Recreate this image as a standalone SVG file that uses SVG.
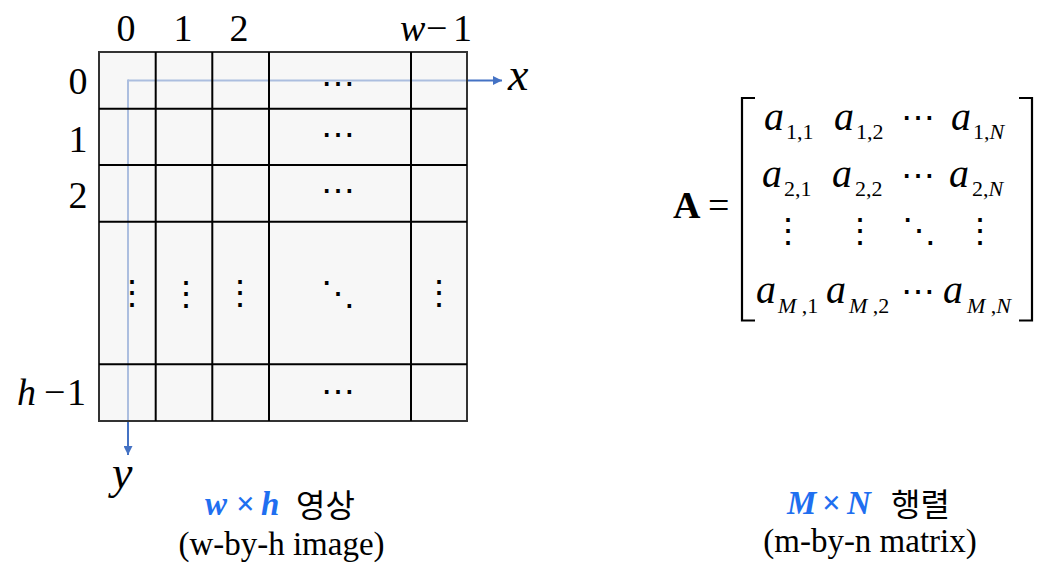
<svg xmlns="http://www.w3.org/2000/svg" width="1056" height="576" viewBox="0 0 1056 576">
<defs>
<marker id="ah" viewBox="0 0 10 10" refX="10" refY="5" markerWidth="10" markerHeight="9" markerUnits="userSpaceOnUse" orient="auto">
<path d="M0,0 L10,5 L0,10 z" fill="#4472C4"/>
</marker>
<style>
.n{font-size:38px}
.i{font-style:italic}
.m{font-size:40px;font-style:italic}
.xy{font-size:46px;font-style:italic}
.s{font-size:22px}
.si{font-size:22px;font-style:italic}
.d{font-size:34px;text-anchor:middle}
.cell{fill:#f2f2f2;fill-opacity:0.6}
.gl{stroke:#000;stroke-width:2;fill:none}
.ax{stroke:#4472C4;stroke-width:2;fill:none}
.br{stroke:#000;stroke-width:2.2;fill:none}
.cap{font-size:33px}
.blue{fill:#1f6ff0;font-weight:bold;font-style:italic}
.kr{font-size:32px}
</style>
</defs>
<rect width="1056" height="576" fill="#fff"/>

<g id="connectors">
<path class="ax" d="M128,80.5 L502,80.5" marker-end="url(#ah)"/>
<path class="ax" d="M128,79.5 L128,455" marker-end="url(#ah)"/>
</g>

<g id="image-grid" font-family="DejaVu Serif, serif" fill="#000">
<rect class="cell" x="99" y="52" width="368" height="369"/>
<rect x="99" y="52" width="368" height="369" fill="none" stroke="#333" stroke-width="2"/>
<path class="gl" d="M155.7,52 V421 M212.3,52 V421 M269,52 V421 M411,52 V421 M99,108.7 H467 M99,165 H467 M99,221.7 H467 M99,364.3 H467"/>
<text class="d" x="337.5" y="95">⋯</text>
<text class="d" x="337.5" y="146">⋯</text>
<text class="d" x="337.5" y="202">⋯</text>
<text class="d" x="337.5" y="403">⋯</text>
<text class="d" x="132" y="304">⋮</text>
<text class="d" x="185.5" y="305">⋮</text>
<text class="d" x="239.5" y="304">⋮</text>
<text class="d" x="438.5" y="304">⋮</text>
<text class="d" x="337.5" y="305">⋱</text>
</g>

<g id="col-labels" font-family="'Liberation Serif', 'DejaVu Serif', serif" fill="#000">
<text class="n" x="126" y="41" text-anchor="middle">0</text>
<text class="n" x="183" y="41" text-anchor="middle">1</text>
<text class="n" x="239" y="41" text-anchor="middle">2</text>
<text class="n" x="400" y="41"><tspan class="i">w</tspan><tspan x="426">−</tspan><tspan x="453">1</tspan></text>
</g>

<g id="row-labels" font-family="'Liberation Serif', 'DejaVu Serif', serif" fill="#000">
<text class="n" x="78" y="94" text-anchor="middle">0</text>
<text class="n" x="78" y="152" text-anchor="middle">1</text>
<text class="n" x="78" y="208" text-anchor="middle">2</text>
<text class="n" x="17" y="405"><tspan class="i">h</tspan><tspan x="44">−</tspan><tspan x="67">1</tspan></text>
</g>

<g id="axis-labels" font-family="'Liberation Serif', 'DejaVu Serif', serif" fill="#000">
<text class="xy" x="508" y="90">x</text>
<text class="xy" x="112" y="488">y</text>
</g>

<g id="caption-image" fill="#000">
<text class="cap" font-family="'Liberation Serif', 'DejaVu Serif', serif" x="205" y="515"><tspan class="blue">w</tspan><tspan x="236" fill="#1f6ff0" font-weight="bold">×</tspan><tspan x="261" class="blue">h</tspan></text>
<text class="kr" font-family="'Noto Sans CJK KR', sans-serif" x="296" y="517">영상</text>
<text class="cap" font-family="'Liberation Serif', 'DejaVu Serif', serif" x="281.5" y="555" text-anchor="middle">(w-by-h image)</text>
</g>

<g id="matrix" font-family="'Liberation Serif', 'DejaVu Serif', serif" fill="#000">
<text x="673" y="218" font-size="38" font-weight="bold">A</text>
<text x="708" y="218" font-size="38">=</text>
<path class="br" d="M755,98 H742 V320.5 H755"/>
<path class="br" d="M1019,98 H1032 V320.5 H1019"/>

<text class="m" x="764" y="130">a</text><text class="s" x="786" y="139">1,1</text>
<text class="m" x="834" y="130">a</text><text class="s" x="856" y="139">1,2</text>
<text class="d" font-family="DejaVu Serif, serif" x="918" y="129">⋯</text>
<text class="m" x="951" y="130">a</text><text class="s" x="973" y="139">1,<tspan class="si">N</tspan></text>

<text class="m" x="762" y="187">a</text><text class="s" x="784" y="196">2,1</text>
<text class="m" x="832" y="187">a</text><text class="s" x="855" y="196">2,2</text>
<text class="d" font-family="DejaVu Serif, serif" x="918" y="187">⋯</text>
<text class="m" x="949" y="187">a</text><text class="s" x="972" y="196">2,<tspan class="si">N</tspan></text>

<text class="d" font-family="DejaVu Serif, serif" x="788" y="242">⋮</text>
<text class="d" font-family="DejaVu Serif, serif" x="860" y="242">⋮</text>
<text class="d" font-family="DejaVu Serif, serif" x="919" y="242">⋱</text>
<text class="d" font-family="DejaVu Serif, serif" x="980" y="242">⋮</text>

<text class="m" x="756" y="303">a</text><text class="s" x="778" y="313"><tspan class="si">M</tspan> ,1</text>
<text class="m" x="826" y="303">a</text><text class="s" x="849" y="313"><tspan class="si">M</tspan> ,2</text>
<text class="d" font-family="DejaVu Serif, serif" x="918" y="303">⋯</text>
<text class="m" x="943" y="303">a</text><text class="s" x="967" y="313"><tspan class="si">M</tspan> ,<tspan class="si">N</tspan></text>
</g>

<g id="caption-matrix" fill="#000">
<text class="cap" font-family="'Liberation Serif', 'DejaVu Serif', serif" x="787" y="514"><tspan class="blue">M</tspan><tspan x="822" fill="#1f6ff0" font-weight="bold">×</tspan><tspan x="847" class="blue">N</tspan></text>
<text class="kr" font-family="'Noto Sans CJK KR', sans-serif" x="891" y="516">행렬</text>
<text class="cap" font-family="'Liberation Serif', 'DejaVu Serif', serif" x="870" y="552" text-anchor="middle">(m-by-n matrix)</text>
</g>
</svg>
